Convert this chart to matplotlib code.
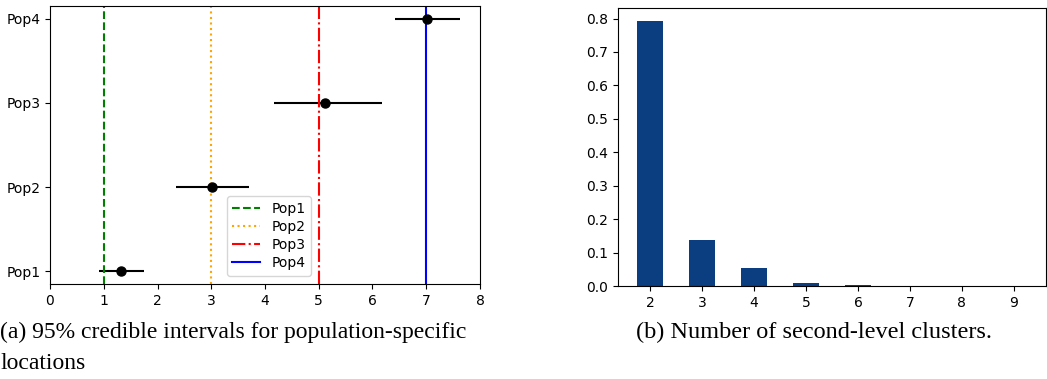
import numpy as np
import matplotlib
matplotlib.use("Agg")
import matplotlib.pyplot as plt

# credible intervals for population-specific locations
pops = ["Pop1", "Pop2", "Pop3", "Pop4"]
post_mean = [1.33, 3.02, 5.12, 7.01]
ci_low = [0.92, 2.35, 4.16, 6.41]
ci_high = [1.75, 3.70, 6.18, 7.62]
true_loc = [1, 3, 5, 7]
line_styles = ["--", ":", "-.", "-"]
line_colors = ["green", "orange", "red", "blue"]

# posterior of number of second-level clusters
n_clusters = [2, 3, 4, 5, 6, 7, 8, 9]
probs = [0.792, 0.138, 0.053, 0.009, 0.003, 0.0006, 0.0002, 0.0001]

W, H = 1047, 379
fig = plt.figure(figsize=(W / 100, H / 100), dpi=100)

ax1 = fig.add_axes([50 / W, 1 - 284 / H, 430 / W, 278 / H])
ypos = np.arange(len(pops))
xerr = [np.array(post_mean) - np.array(ci_low), np.array(ci_high) - np.array(post_mean)]
ax1.errorbar(post_mean, ypos, xerr=xerr, fmt="o", color="black", ms=6.5, elinewidth=1.5)
for loc, ls, c, name in zip(true_loc, line_styles, line_colors, pops):
    ax1.axvline(loc, linestyle=ls, color=c, label=name, lw=1.5)
ax1.set_xlim(0, 8)
ax1.set_yticks(ypos)
ax1.set_yticklabels(pops)
ax1.tick_params(labelsize=10)
ax1.legend(loc="lower left", bbox_to_anchor=(0.395, 0.005), fontsize=10,
           handlelength=2.0, borderpad=0.4, labelspacing=0.3)

ax2 = fig.add_axes([618 / W, 1 - 286 / H, 428 / W, 278 / H])
ax2.bar(n_clusters, probs, width=0.5, color="#0a3e80")
ax2.set_xticks(n_clusters)
ax2.set_yticks(np.arange(0, 0.81, 0.1))
ax2.yaxis.set_major_formatter(matplotlib.ticker.FormatStrFormatter("%.1f"))
ax2.tick_params(labelsize=10)

serif = ["Liberation Serif", "DejaVu Serif"]
fig.text(0, 1 - 338 / H, "(a) 95% credible intervals for population-specific",
         family=serif, fontsize=17, ha="left", va="baseline")
fig.text(0, 1 - 369 / H, "locations", family=serif, fontsize=17, ha="left", va="baseline")
fig.text(636 / W, 1 - 338 / H, "(b) Number of second-level clusters.",
         family=serif, fontsize=17.5, ha="left", va="baseline")

fig.savefig("out.png", dpi=100)
